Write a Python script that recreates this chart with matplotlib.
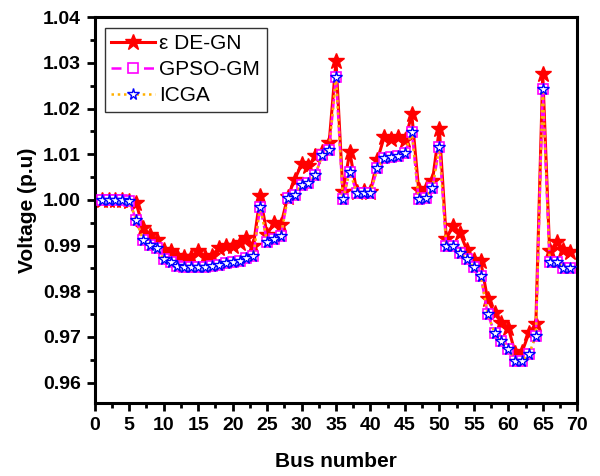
import matplotlib
matplotlib.use("Agg")
import matplotlib.pyplot as plt
from matplotlib.ticker import MultipleLocator

plt.rcParams['font.family'] = ['Liberation Sans', 'DejaVu Sans']

bus = list(range(1, 70))

de_gn = [1.0000, 1.0000, 1.0000, 1.0000, 0.9998, 0.9993, 0.9939, 0.9924, 0.9913, 0.9890,
         0.9887, 0.9878, 0.9876, 0.9876, 0.9888, 0.9876, 0.9878, 0.9895, 0.9900, 0.9900,
         0.9905, 0.9917, 0.9898, 1.0008, 0.9924, 0.9950, 0.9945, 1.0007, 1.0044, 1.0078,
         1.0074, 1.0095, 1.0105, 1.0124, 1.0304, 1.0018, 1.0105, 1.0018, 1.0020, 1.0018,
         1.0087, 1.0138, 1.0133, 1.0138, 1.0130, 1.0187, 1.0022, 1.0024, 1.0042, 1.0156,
         0.9915, 0.9943, 0.9927, 0.9890, 0.9869, 0.9866, 0.9782, 0.9753, 0.9731, 0.9720,
         0.9665, 0.9667, 0.9709, 0.9728, 1.0276, 0.9887, 0.9907, 0.9890, 0.9885]

gpso_gm = [1.0000, 0.9999, 0.9999, 0.9999, 0.9998, 0.9956, 0.9913, 0.9902, 0.9895, 0.9870,
           0.9863, 0.9856, 0.9852, 0.9852, 0.9853, 0.9853, 0.9855, 0.9858, 0.9862, 0.9864,
           0.9867, 0.9872, 0.9877, 0.9985, 0.9908, 0.9915, 0.9921, 1.0004, 1.0011, 1.0033,
           1.0036, 1.0055, 1.0098, 1.0109, 1.0269, 1.0001, 1.0062, 1.0016, 1.0016, 1.0016,
           1.0069, 1.0091, 1.0094, 1.0095, 1.0102, 1.0149, 1.0001, 1.0004, 1.0026, 1.0116,
           0.9900, 0.9900, 0.9884, 0.9870, 0.9853, 0.9834, 0.9751, 0.9709, 0.9691, 0.9674,
           0.9647, 0.9648, 0.9662, 0.9703, 1.0242, 0.9865, 0.9865, 0.9851, 0.9851]

icga = list(gpso_gm)

xticks = list(range(0, 71, 5))
yticks = [0.96, 0.97, 0.98, 0.99, 1.00, 1.01, 1.02, 1.03, 1.04]

fig = plt.figure(figsize=(6.0, 4.76), dpi=100)
ax = fig.add_axes([0.158, 0.153, 0.804, 0.811])

ax.plot(bus, de_gn, color='#ff0000', lw=2.2, marker='*', ms=12,
        mfc='#ff0000', mec='#ff0000', label='ε DE-GN', zorder=2)
ax.plot(bus, gpso_gm, color='#ff00ff', lw=1.8, ls=(0, (4, 2.5)), marker='s', ms=7,
        mfc='white', mec='#ff00ff', mew=1.2, label='GPSO-GM', zorder=3)
ax.plot(bus, icga, color='#ffb000', lw=1.8, ls=(0, (1, 1.5)), marker='*', ms=8.5,
        mfc='white', mec='#0000ff', mew=1.0, label='ICGA', zorder=4)

ax.set_xlim(0, 70)
ax.set_ylim(0.9555, 1.04)
ax.set_xticks(xticks)
ax.set_yticks(yticks)
ax.set_yticklabels([f'{v:.2f}' for v in yticks])
ax.xaxis.set_minor_locator(MultipleLocator(2.5))
ax.yaxis.set_minor_locator(MultipleLocator(0.005))

for sp in ax.spines.values():
    sp.set_linewidth(2.2)
ax.tick_params(which='major', direction='out', length=6, width=2, labelsize=14, pad=4)
ax.tick_params(which='minor', direction='out', length=3.5, width=2)
for lab in ax.get_xticklabels() + ax.get_yticklabels():
    lab.set_fontweight('bold')

ax.set_xlabel('Bus number', fontsize=15, fontweight='bold', labelpad=13)
ax.set_ylabel('Voltage (p.u)', fontsize=15, fontweight='bold', labelpad=4)

leg = ax.legend(loc='upper left', fontsize=15, frameon=True, fancybox=False,
                edgecolor='black', borderpad=0.3, labelspacing=0.35,
                handlelength=2.1, handletextpad=0.2, borderaxespad=0.5)
leg.get_frame().set_linewidth(1.0)

fig.savefig('out.png', dpi=100)
